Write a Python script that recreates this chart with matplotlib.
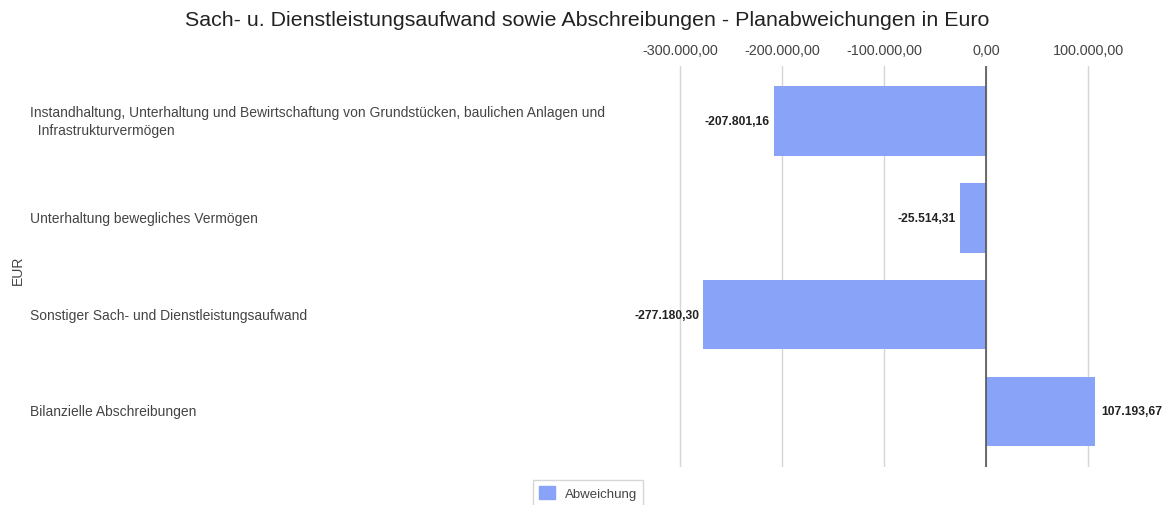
import matplotlib
matplotlib.use('Agg')
import matplotlib.pyplot as plt
import matplotlib.transforms as mtransforms
from matplotlib.ticker import FuncFormatter

plt.rcParams['font.family'] = ['Liberation Sans', 'DejaVu Sans']

# data
kategorien = ['Instandhaltung, Unterhaltung und Bewirtschaftung von Grundstücken, baulichen Anlagen und\n  Infrastrukturvermögen',
              'Unterhaltung bewegliches Vermögen',
              'Sonstiger Sach- und Dienstleistungsaufwand',
              'Bilanzielle Abschreibungen']
abweichung = [-207801.16, -25514.31, -277180.30, 107193.67]
x_ticks = [-300000, -200000, -100000, 0, 100000]

titel = 'Sach- u. Dienstleistungsaufwand sowie Abschreibungen - Planabweichungen in Euro'
bar_color = '#88a3f8'


def de_format(v, pos=None):
    s = '{:,.2f}'.format(v)
    return s.replace(',', 'X').replace('.', ',').replace('X', '.')


W, H = 1164, 506
fig = plt.figure(figsize=(W / 100, H / 100), dpi=100)
ax = fig.add_axes([610 / W, 1 - 468 / H, (1150 - 610) / W, (468 - 67) / H])

pos = list(range(len(kategorien)))
ax.barh(pos, abweichung, height=0.72, color=bar_color, zorder=3)
ax.set_ylim(3.574, -0.568)
ax.set_xlim(-368600, 160800)

# grid + zero line
ax.set_xticks(x_ticks)
ax.xaxis.set_major_formatter(FuncFormatter(de_format))
ax.xaxis.tick_top()
ax.tick_params(axis='x', length=0, pad=6.5, labelsize=10.4, labelcolor='#444444')
ax.grid(axis='x', color='#d6d6d6', lw=1, zorder=0)
ax.axvline(0, color='#555555', lw=1.2, zorder=4)
ax.set_yticks([])
for s in ax.spines.values():
    s.set_visible(False)

# value labels
for i, v in enumerate(abweichung):
    off = -3 if v < 0 else 4
    ax.annotate(de_format(v), (v, i), xytext=(off, 0), textcoords='offset points',
                ha='right' if v < 0 else 'left', va='center',
                fontsize=8.7, fontweight='bold', color='#222222')

# category labels, left aligned near the figure edge
trans = mtransforms.blended_transform_factory(fig.transFigure, ax.transData)
for i, k in enumerate(kategorien):
    ax.text(30 / W, i, k, transform=trans, ha='left', va='center',
            fontsize=10, color='#444444', linespacing=1.45)

fig.text(18 / W, 1 - 270 / H, 'EUR', rotation=90, ha='center', va='center',
         fontsize=10, color='#444444')

fig.text(587 / W, 1 - 20 / H, titel, ha='center', va='center', fontsize=15.4, color='#222222')

leg = fig.legend(handles=[plt.Rectangle((0, 0), 1, 1, color=bar_color)], labels=['Abweichung'],
                 loc='upper center', bbox_to_anchor=(588 / W, 1 - 481 / H),
                 fontsize=9.5, frameon=True, fancybox=False, edgecolor='#cccccc',
                 handlelength=1.2, handleheight=1.2, borderpad=0.45, borderaxespad=0)
leg.get_texts()[0].set_color('#444444')

fig.savefig('out.png', dpi=100)
